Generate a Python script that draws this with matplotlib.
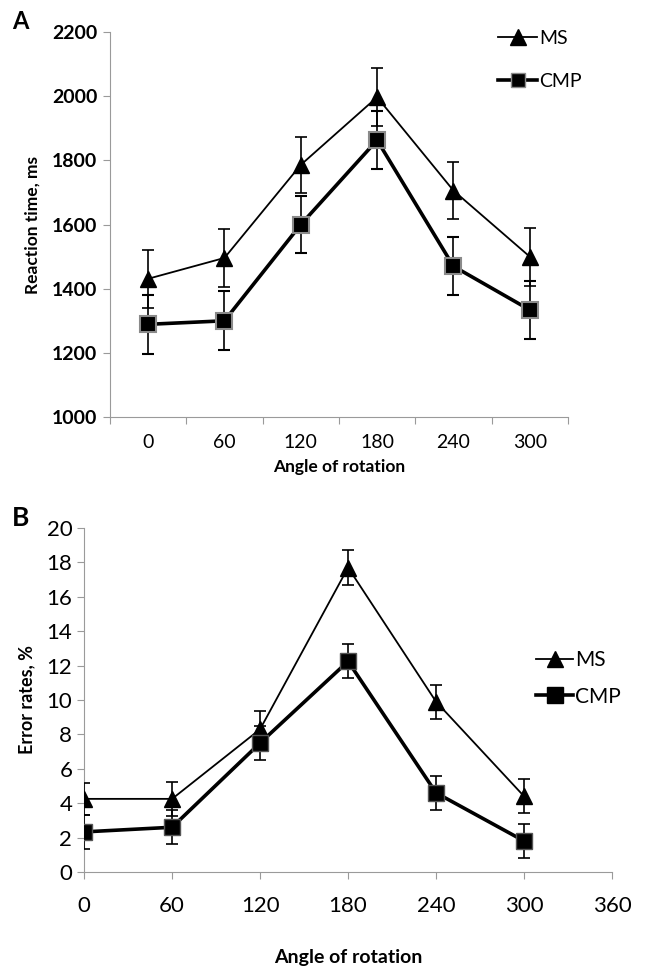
import matplotlib
matplotlib.use("Agg")
import matplotlib.pyplot as plt
from matplotlib.lines import Line2D
import numpy as np

plt.rcParams['font.family'] = ['Lato', 'DejaVu Sans']

angles = [0, 60, 120, 180, 240, 300]
angle_labels = ['0', '60', '120', '180', '240', '300']

rt_ms = [1431, 1496, 1786, 1997, 1706, 1500]
rt_ms_err = [90, 90, 88, 90, 90, 90]
rt_cmp = [1289, 1300, 1600, 1863, 1470, 1334]
rt_cmp_err = [91, 92, 90, 90, 90, 90]

er_ms = [4.25, 4.25, 8.3, 17.7, 9.9, 4.4]
er_ms_err = [0.95, 1.0, 1.05, 1.0, 1.0, 1.0]
er_cmp = [2.33, 2.6, 7.5, 12.25, 4.6, 1.8]
er_cmp_err = [1.0, 1.0, 1.0, 1.0, 1.0, 1.0]

fig = plt.figure(figsize=(6.52, 9.71), dpi=100)
spine_col = '#9a9a9a'

# ---------- Panel A ----------
axA = fig.add_axes([0.1687, 0.5705, 0.7023, 0.3965])
pos = np.arange(len(angles))
axA.errorbar(pos, rt_ms, yerr=rt_ms_err, color='black', lw=1.3, marker='^',
             ms=11, mfc='black', mec='black', capsize=4, elinewidth=1.2, capthick=1.2, zorder=3)
axA.errorbar(pos, rt_cmp, yerr=rt_cmp_err, color='black', lw=2.6, marker='s',
             ms=11, mfc='black', mec='#8a8a8a', mew=1.5, capsize=4, elinewidth=1.2, capthick=1.2, zorder=4)
axA.set_xlim(-0.5, 5.5)
axA.set_ylim(1000, 2200)
axA.set_yticks(np.arange(1000, 2201, 200))
axA.set_xticks(np.arange(-0.5, 5.6, 1.0))
axA.set_xticklabels([])
axA.set_xticks(pos, minor=True)
axA.set_xticklabels(angle_labels, minor=True)
axA.tick_params(axis='x', which='minor', length=0, pad=12, labelsize=14)
axA.tick_params(axis='x', which='major', length=5, color=spine_col)
axA.tick_params(axis='y', length=5, color=spine_col, labelsize=14, pad=4)
for lab in axA.get_yticklabels():
    lab.set_fontweight('bold')
for s in ['top', 'right']:
    axA.spines[s].set_visible(False)
for s in ['left', 'bottom']:
    axA.spines[s].set_color(spine_col)
axA.set_ylabel('Reaction time, ms', fontsize=12.5, fontweight='bold', labelpad=8)
axA.set_xlabel('Angle of rotation', fontsize=12.5, fontweight='bold', labelpad=6)
fig.text(0.018, 0.978, 'A', fontsize=17, fontweight='bold', va='center')

hA = [Line2D([], [], color='black', lw=1.3, marker='^', ms=11),
      Line2D([], [], color='black', lw=2.6, marker='s', ms=10, mec='#8a8a8a')]
axA.legend(hA, ['MS', 'CMP'], loc='upper left', bbox_to_anchor=(0.81, 1.05),
           frameon=False, fontsize=14, handlelength=2.0, handletextpad=0.1,
           labelspacing=1.3)

# ---------- Panel B ----------
axB = fig.add_axes([0.129, 0.102, 0.8097, 0.3542])
axB.errorbar(angles, er_ms, yerr=er_ms_err, color='black', lw=1.3, marker='^',
             ms=12, mfc='black', mec='black', capsize=4, elinewidth=1.2, capthick=1.2, zorder=3)
axB.errorbar(angles, er_cmp, yerr=er_cmp_err, color='black', lw=2.6, marker='s',
             ms=12, mfc='black', mec='#555555', capsize=4, elinewidth=1.2, capthick=1.2, zorder=4)
axB.set_xlim(0, 360)
axB.set_ylim(0, 20)
axB.set_xticks(np.arange(0, 361, 60))
axB.set_yticks(np.arange(0, 21, 2))
axB.tick_params(axis='both', length=5, color=spine_col, labelsize=16)
axB.tick_params(axis='x', pad=12)
for s in ['top', 'right']:
    axB.spines[s].set_visible(False)
for s in ['left', 'bottom']:
    axB.spines[s].set_color(spine_col)
axB.set_ylabel('Error rates, %', fontsize=13, fontweight='bold', labelpad=8)
axB.set_xlabel('Angle of rotation', fontsize=14, fontweight='bold', labelpad=24)
fig.text(0.018, 0.467, 'B', fontsize=19, fontweight='bold', va='center')

hB = [Line2D([], [], color='black', lw=1.3, marker='^', ms=12),
      Line2D([], [], color='black', lw=2.6, marker='s', ms=12)]
axB.legend(hB, ['MS', 'CMP'], loc='upper left', bbox_to_anchor=(0.82, 0.70),
           frameon=False, fontsize=15, handlelength=1.8, handletextpad=0.1,
           labelspacing=0.8)

fig.savefig('out.png', dpi=100)
